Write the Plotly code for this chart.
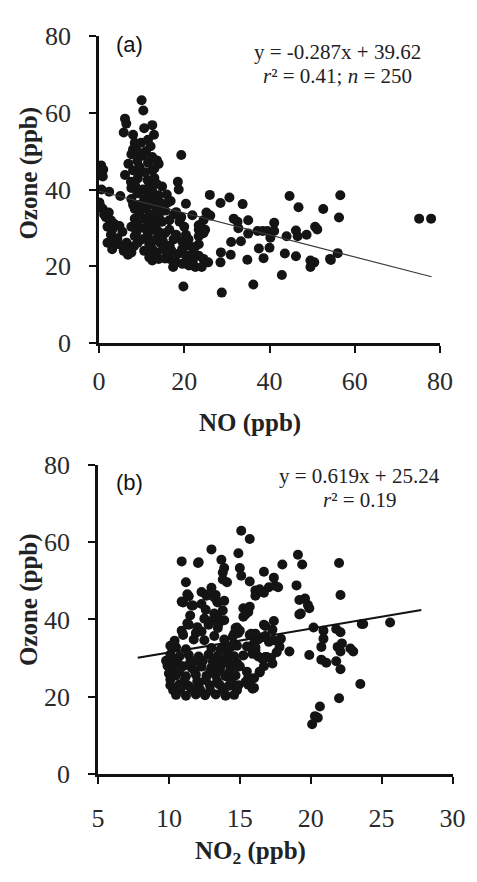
import plotly.graph_objects as go

# ---------------- Panel (a): NO vs Ozone ----------------
no_a = [0.5,0.9,0.3,1.0,0.1,0.9,0.4,1.6,2.8,2.0,3.1,2.8,4.3,2.0,4.7,3.1,5.8,7.6,6.5,2.4,5.0,3.6,4.8,5.5,3.5,1.2,2.3,0.6,6.8,7.2,8.2,
        10.0,10.4,6.1,6.4,5.8,8.0,10.6,12.5,12.9,9.9,12.1,8.4,19.3,7.6,10.3,13.6,6.9,9.5,12.5,14.0,6.1,9.1,11.4,18.5,18.7,14.8,15.9,
        7.6,10.3,12.5,7.6,10.6,12.9,20.4,16.2,8.4,11.0,13.6,18.1,19.3,21.9,24.5,8.4,10.6,12.5,14.8,18.9,20.0,7.6,10.6,12.9,23.4,24.5,
        8.4,11.0,13.6,15.5,18.1,20.4,9.1,11.8,14.4,16.6,21.1,23.4,10.6,13.6,17.0,18.5,20.4,21.9,23.4,24.5,11.8,14.0,16.6,18.1,19.6,
        21.1,17.4,22.6,24.1,12.5,19.8,25.2,25.6,23.4,24.9,23.4,
        8.0,9.0,11.0,11.5,9.0,11.5,12.5,8.0,10.8,13.0,7.5,8.5,11.8,13.5,9.0,11.5,14.0,8.0,9.5,12.0,14.5,9.5,12.0,14.0,15.5,9.0,11.5,
        13.5,16.5,8.8,11.5,14.0,16.5,10.0,12.5,15.0,17.5,12.5,15.0,16.0,19.5,13.0,15.5,20.5,22.0,9.2,13.0,10.0,13.0,16.8,17.5,19.5,
        22.5,21.0,
        26.0,28.5,30.6,33.7,26.1,31.6,32.5,32.7,35.0,35.0,37.2,38.4,39.5,41.1,41.1,40.2,44.7,46.8,52.6,46.2,46.6,48.7,50.7,51.2,44.0,
        31.0,33.3,37.5,40.0,43.6,46.2,28.6,30.9,28.5,34.8,38.6,49.6,50.5,49.6,54.2,42.9,36.2,28.8,56.6,56.3,75.1,77.9,56.0,54.4]
o3_a = [46.3,43.4,44.5,45.2,36.6,34.9,35.5,32.8,32.0,30.3,29.5,28.2,27.3,26.1,25.7,24.4,24.0,23.6,26.1,39.4,38.3,31.0,30.5,29.0,26.5,33.5,34.0,40.0,23.0,24.8,25.2,
        63.3,60.6,58.5,57.2,54.9,54.3,56.0,56.8,54.3,52.2,51.3,52.2,49.0,49.2,48.8,47.6,46.7,45.9,45.0,46.7,43.8,42.9,42.5,42.0,40.0,40.8,38.7,
        40.4,40.0,39.6,37.5,37.5,37.0,36.3,36.6,34.9,34.9,34.9,34.1,32.8,33.3,32.0,32.4,32.4,32.0,31.6,31.6,30.3,30.3,29.9,29.5,29.5,28.6,
        27.8,27.3,27.3,28.6,28.2,28.2,26.1,25.7,26.1,25.3,25.3,25.7,24.0,23.6,24.0,23.2,22.7,23.2,22.7,21.9,22.3,21.9,21.9,21.0,20.6,
        20.2,19.8,19.8,19.8,21.5,14.7,34.0,21.0,30.7,29.5,27.8,
        50.5,50.0,50.0,53.0,47.5,47.0,48.5,45.0,44.5,43.0,42.0,41.0,41.0,41.5,39.0,38.5,38.5,36.0,36.0,36.0,36.5,33.5,33.5,33.0,34.5,31.0,31.0,
        31.0,32.0,29.0,28.5,29.0,29.5,27.0,26.5,26.5,27.0,24.5,24.5,23.0,24.5,22.5,22.0,21.0,21.5,44.0,45.5,35.5,38.0,37.0,33.5,26.5,
        25.0,27.0,
        38.6,36.5,37.9,36.2,33.2,32.4,31.6,29.9,32.0,28.5,29.2,29.2,29.2,31.3,29.2,27.4,38.3,35.4,34.9,29.3,27.8,28.2,30.3,29.6,27.8,
        26.3,26.5,24.6,24.8,23.3,22.6,23.6,23.0,21.0,21.7,22.1,21.5,21.0,19.8,21.9,17.7,15.2,13.1,38.5,32.7,32.4,32.4,23.4,21.6]

# ---------------- Panel (b): NO2 vs Ozone ----------------
no2_b = [9.8,10.9,11.2,10.9,11.4,11.7,10.9,11.4,12.1,13.0,12.3,12.7,13.3,13.4,13.7,13.9,13.8,14.1,14.9,15.0,15.1,15.1,15.7,15.7,16.7,
         17.4,18.0,19.1,19.4,19.0,19.2,19.6,19.8,19.9,19.2,22.0,22.1,16.1,16.6,17.05,17.5,17.7,15.25,15.4,15.7,16.8,17.4,16.1,16.6,
         17.05,17.4,17.9,17.8,18.5,20.2,20.9,20.9,20.75,19.9,20.75,21.1,21.8,22.1,21.9,22.1,22.2,21.8,22.1,22.8,23.0,23.6,25.6,23.5,
         22.0,20.65,20.3,20.1,20.5,16.4,16.7,15.9,15.4,15.6,14.8,14.6,14.0,15.0,14.8,14.1,14.3,16.1,16.3,15.7,16.0,15.8,14.8,15.0,
         14.6,13.9,14.1,
         12.05,13.8,13.0,12.65,13.2,11.3,11.0,11.6,13.45,13.9,13.8,13.2,15.6,15.25,16.1,16.7,16.4,12.5,13.0,13.45,13.9,12.8,13.45,
         11.3,14.7,14.9,16.7,17.3,15.7,16.3,16.8,11.9,12.3,11.75,12.5,13.2,13.9,14.5,10.1,10.5,11.2,13.0,13.65,14.35,14.8,15.5,16.1,
         15.25,15.9,16.6,16.9,10.1,10.75,11.4,12.1,12.8,13.45,14.1,14.6,10.3,11.0,11.6,12.3,13.0,13.65,14.35,14.9,15.5,16.4,10.5,
         11.2,11.9,12.65,13.3,14.0,14.7,16.0,10.1,10.75,11.4,12.1,12.9,13.55,14.2,14.9,15.6,16.0,10.5,11.2,11.9,12.55,13.3,14.0,14.6,
         10.0,10.1,9.9,10.6,11.8,13.2,10.8,12.2,13.8,10.4,11.0,12.0,12.6,12.3,11.5,13.5,
         16.8,17.3,17.6,23.7,17.2,19.3,
         10.4,11.5,12.4,13.1,13.8,10.7,11.8,12.9,13.6,14.3,11.1,12.0,12.6,13.4,14.4,10.3,11.6,12.9]
o3_b = [29.3,55.0,49.6,44.6,46.0,43.6,37.1,38.6,54.8,58.1,47.1,46.4,46.3,44.6,55.4,53.3,52.1,49.6,57.1,53.3,51.3,62.9,60.8,49.8,52.3,
        50.8,54.2,56.7,54.2,48.8,45.0,45.4,43.7,42.9,41.3,54.6,46.3,47.5,47.1,48.3,48.7,48.3,42.9,41.3,43.3,38.3,39.6,36.3,35.4,
        34.2,34.6,35.0,32.9,31.7,37.9,37.1,35.0,32.9,30.8,29.6,28.8,37.5,36.7,32.9,31.7,33.8,29.2,27.1,32.5,31.7,38.8,39.2,23.3,
        19.6,17.5,15.0,12.9,14.6,26.3,27.9,22.1,23.8,25.0,21.7,22.9,20.4,27.9,28.8,29.6,28.3,32.1,30.4,32.9,33.8,36.3,37.9,37.1,
        36.3,32.9,32.1,
        54.6,50.3,48.2,46.1,45.7,46.5,44.4,43.6,44.4,44.8,42.3,41.5,41.9,40.7,46.1,46.9,47.8,40.2,39.6,40.4,39.8,38.6,37.8,
        39.0,37.8,36.5,38.6,37.3,36.0,34.8,35.7,36.5,36.9,34.8,34.6,35.7,34.8,35.5,33.2,32.8,32.3,32.6,32.3,32.8,33.2,33.0,32.8,
        30.7,31.1,29.8,30.3,30.9,30.5,30.8,30.4,30.9,30.6,30.8,30.5,27.7,27.9,27.5,27.8,27.6,27.9,27.5,27.8,26.5,26.5,25.5,
        25.3,25.7,25.4,25.6,25.3,25.5,24.8,23.0,23.2,22.8,23.1,22.9,23.2,22.8,23.0,23.1,22.3,20.5,20.3,20.6,20.4,20.6,20.3,20.5,
        26.0,24.5,28.0,29.0,29.2,29.0,21.8,21.8,21.8,34.5,36.0,38.0,42.5,44.0,41.0,38.8,
        30.3,28.6,31.5,38.8,30.0,41.5,
        29.2,29.0,29.3,29.1,29.3,26.6,26.8,26.5,26.7,26.6,24.2,24.0,24.3,24.1,24.2,21.7,21.9,21.6]

# regression lines (published fits) and the x-extent over which they are drawn
fit_a = dict(slope=-0.287, intercept=39.62, xr=[0, 78])
fit_b = dict(slope=0.619, intercept=25.24, xr=[7.8, 27.8])

xticks_a = [0, 20, 40, 60, 80]
xticks_b = [5, 10, 15, 20, 25, 30]
yticks = [0, 20, 40, 60, 80]

SERIF = "Liberation Serif"
SANS = "Liberation Sans"

fig = go.Figure()
mk = dict(size=10, color="#141414", line=dict(width=0))
fig.add_trace(go.Scatter(x=no_a, y=o3_a, mode="markers", marker=mk, xaxis="x", yaxis="y", showlegend=False))
fig.add_trace(go.Scatter(x=fit_a["xr"], y=[fit_a["slope"] * v + fit_a["intercept"] for v in fit_a["xr"]],
                         mode="lines", line=dict(color="#3a3a3a", width=1.2), xaxis="x", yaxis="y", showlegend=False))
fig.add_trace(go.Scatter(x=no2_b, y=o3_b, mode="markers", marker=mk, xaxis="x2", yaxis="y2", showlegend=False))
fig.add_trace(go.Scatter(x=fit_b["xr"], y=[fit_b["slope"] * v + fit_b["intercept"] for v in fit_b["xr"]],
                         mode="lines", line=dict(color="#111111", width=2), xaxis="x2", yaxis="y2", showlegend=False))

W, H = 477, 882
def px(x): return x / W
def py(y): return 1 - y / H

def axis(**kw):
    d = dict(showgrid=False, zeroline=False, showline=True, linecolor="#111", linewidth=2.5,
             ticks="outside", ticklen=7, tickwidth=2, tickcolor="#111",
             tickfont=dict(family=SERIF, size=26, color="#2a2a2a"))
    d.update(kw)
    return d

fig.update_layout(
    width=W, height=H, margin=dict(l=0, r=0, t=0, b=0),
    paper_bgcolor="white", plot_bgcolor="white",
    font=dict(family=SERIF, size=22, color="#222"),
    xaxis=axis(domain=[px(96), px(452)], range=[0, 80], tickvals=xticks_a, anchor="y", ticklabelstandoff=6),
    yaxis=axis(domain=[py(340), py(23)], range=[0, 80], tickvals=yticks, anchor="x", ticklabelstandoff=13),
    xaxis2=axis(domain=[px(95), px(465)], range=[5, 30], tickvals=xticks_b, anchor="y2", ticklabelstandoff=12),
    yaxis2=axis(domain=[py(786), py(466)], range=[0, 80], tickvals=yticks, anchor="x2", ticklabelstandoff=13),
)

ann = []
def A(text, x, y, font, xanchor="center", yanchor="middle", angle=0):
    ann.append(dict(text=text, x=px(x), y=py(y), xref="paper", yref="paper", showarrow=False,
                    xanchor=xanchor, yanchor=yanchor, textangle=angle, font=font))

tfont = dict(family=SERIF, size=25, color="#222")
A("<b>NO (ppb)</b>", 254, 423, tfont)
A("<b>NO<sub>2</sub> (ppb)</b>", 254, 867, tfont)
A("<b>Ozone (ppb)</b>", 23, 165, tfont, angle=-90)
A("<b>Ozone (ppb)</b>", 23, 606, tfont, angle=-90)
lab = dict(family=SANS, size=22, color="#111")
A("(a)", 112, 32, lab, xanchor="left")
A("(b)", 112, 484, lab, xanchor="left")
efont = dict(family=SERIF, size=21, color="#222")
A("y = -0.287x + 39.62", 345, 39, efont)
A("<i>r</i>² = 0.41; <i>n</i> = 250", 345, 64, efont)
A("y = 0.619x + 25.24", 368, 478, efont)
A("<i>r</i>² = 0.19", 368, 503, efont)
fig.update_layout(annotations=ann)

fig.write_html("out.html")
